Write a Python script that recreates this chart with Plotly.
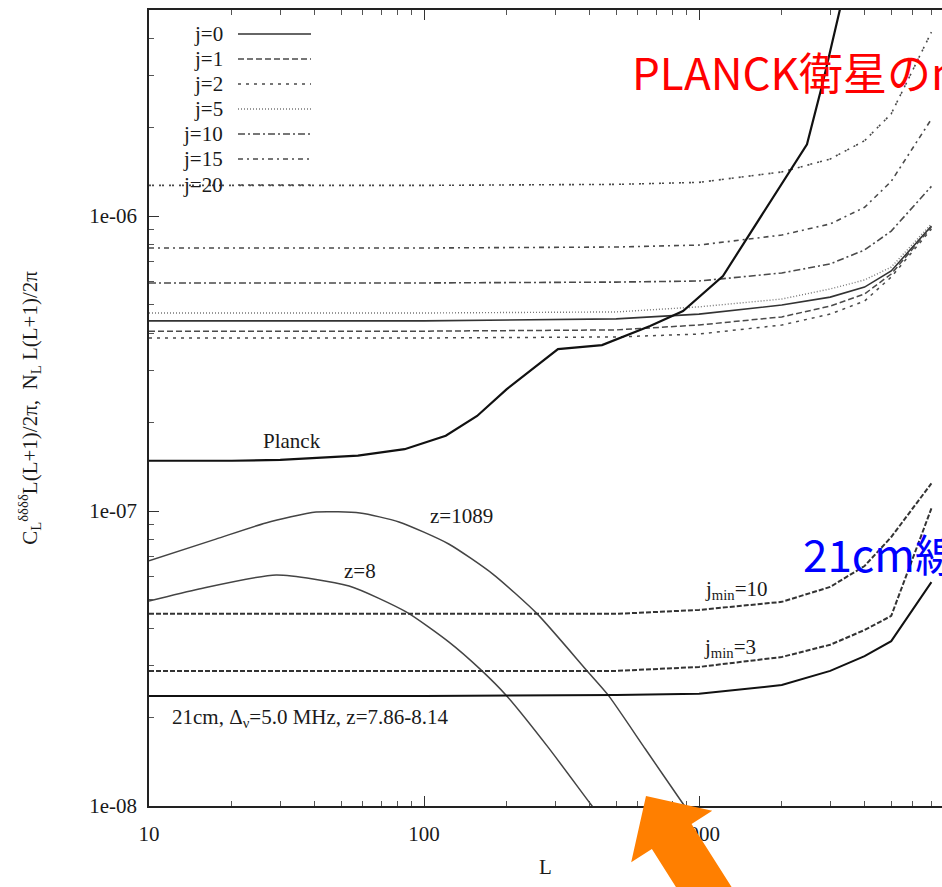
import numpy as np
import plotly.graph_objects as go

# ---------------- data ----------------
# Multipole grid for the noise curves N_L L(L+1)/2pi
L_noise = [10, 100, 500, 1000, 2000, 3000, 4000, 5000, 7000]

noise_j0 = [4.41e-7, 4.41e-7, 4.48e-7, 4.65e-7, 4.99e-7, 5.31e-7, 5.74e-7, 6.51e-7, 9.25e-7]
noise_j1 = [4.07e-7, 4.07e-7, 4.11e-7, 4.27e-7, 4.55e-7, 4.95e-7, 5.44e-7, 6.36e-7, 9.18e-7]
noise_j2 = [3.86e-7, 3.86e-7, 3.89e-7, 3.98e-7, 4.27e-7, 4.65e-7, 5.15e-7, 6.21e-7, 9.03e-7]
noise_j5 = [4.69e-7, 4.69e-7, 4.73e-7, 4.92e-7, 5.23e-7, 5.66e-7, 6.07e-7, 6.71e-7, 9.40e-7]
noise_j10 = [5.93e-7, 5.93e-7, 5.97e-7, 6.02e-7, 6.41e-7, 6.88e-7, 7.67e-7, 8.89e-7, 1.26e-6]
noise_j15 = [7.79e-7, 7.79e-7, 7.85e-7, 7.97e-7, 8.62e-7, 9.40e-7, 1.07e-6, 1.31e-6, 2.13e-6]
noise_j20 = [1.27e-6, 1.27e-6, 1.28e-6, 1.30e-6, 1.41e-6, 1.56e-6, 1.80e-6, 2.22e-6, 4.20e-6]

# 21cm noise (5 MHz band, z=7.86-8.14)
noise_21cm = [2.36e-8, 2.36e-8, 2.38e-8, 2.40e-8, 2.57e-8, 2.87e-8, 3.22e-8, 3.62e-8, 5.74e-8]
noise_21cm_jmin3 = [2.87e-8, 2.87e-8, 2.87e-8, 2.96e-8, 3.20e-8, 3.52e-8, 3.95e-8, 4.41e-8, 1.02e-7]
noise_21cm_jmin10 = [4.48e-8, 4.48e-8, 4.48e-8, 4.62e-8, 4.92e-8, 5.53e-8, 6.51e-8, 8.16e-8, 1.24e-7]

# Planck lensing reconstruction noise
L_planck = [10, 20, 30, 40, 57.5, 85, 120, 156, 200, 307, 444, 664, 875, 1222, 2470, 2825, 3256, 3600]
noise_planck = [1.48e-7, 1.48e-7, 1.49e-7, 1.51e-7, 1.54e-7, 1.62e-7, 1.80e-7, 2.10e-7, 2.59e-7,
                 3.54e-7, 3.65e-7, 4.24e-7, 4.76e-7, 6.26e-7, 1.75e-6, 2.85e-6, 5.03e-6, 7.5e-6]

# Deflection power spectra
L_z1089 = [10, 17.5, 26.6, 40.5, 58.5, 81.1, 123, 178, 258, 392, 467, 638, 867, 1000]
cl_z1089 = [6.78e-8, 8.03e-8, 9.11e-8, 9.92e-8, 9.84e-8, 9.18e-8, 7.73e-8, 6.11e-8, 4.48e-8,
            2.87e-8, 2.38e-8, 1.56e-8, 1.03e-8, 8.55e-9]

L_z8 = [10, 15.2, 29.0, 53.4, 86.1, 123, 160, 200, 283, 402, 516]
cl_z8 = [4.95e-8, 5.44e-8, 6.07e-8, 5.57e-8, 4.55e-8, 3.60e-8, 2.91e-8, 2.36e-8, 1.58e-8, 1.02e-8, 7.5e-9]

j_labels = ["j=0", "j=1", "j=2", "j=5", "j=10", "j=15", "j=20"]
x_ticks = [10, 100, 1000]
x_ticktext = ["10", "100", "1000"]
y_ticks = [1e-8, 1e-7, 1e-6]
y_ticktext = ["1e-08", "1e-07", "1e-06"]
x_minor = [m * d for d in (10, 100, 1000) for m in range(2, 10)]
y_minor = [m * d for d in (1e-8, 1e-7, 1e-6) for m in range(2, 10)]

# ---------------- styling ----------------
W, H = 942, 887
ML, MR, MT, MB = 149, 0, 10, 81
PW, PH = W - ML - MR, H - MT - MB
SERIF = "Liberation Serif, Times New Roman, serif"
GREY = "#4a4a4a"

j_styles = [
    dict(color="#333333", width=1.6, dash="solid"),
    dict(color=GREY, width=1.5, dash="6px,3px"),
    dict(color=GREY, width=1.5, dash="3px,5px"),
    dict(color="#777777", width=1.4, dash="1px,2px"),
    dict(color=GREY, width=1.6, dash="7px,3px,2px,3px"),
    dict(color=GREY, width=1.6, dash="5px,4px,2px,4px"),
    dict(color=GREY, width=1.6, dash="2px,1px,2px,5px"),
]
j_series = [noise_j0, noise_j1, noise_j2, noise_j5, noise_j10, noise_j15, noise_j20]


def paper(px, py):
    """pixel position on the page -> paper coordinates of the plot area"""
    return (px - ML) / PW, (H - MB - py) / PH


fig = go.Figure()

for name, vals, st in zip(j_labels, j_series, j_styles):
    fig.add_trace(go.Scatter(x=L_noise, y=vals, mode="lines", name=name,
                             line=st, showlegend=False))

fig.add_trace(go.Scatter(x=L_planck, y=noise_planck, mode="lines", name="Planck",
                         line=dict(color="#111111", width=2.2), showlegend=False))

fig.add_trace(go.Scatter(x=L_z1089, y=cl_z1089, mode="lines", name="z=1089",
                         line=dict(color="#444444", width=1.5, shape="spline", smoothing=0.6),
                         showlegend=False))
fig.add_trace(go.Scatter(x=L_z8, y=cl_z8, mode="lines", name="z=8",
                         line=dict(color="#444444", width=1.5, shape="spline", smoothing=0.6),
                         showlegend=False))

fig.add_trace(go.Scatter(x=L_noise, y=noise_21cm, mode="lines", name="21cm",
                         line=dict(color="#111111", width=2.0), showlegend=False))
fig.add_trace(go.Scatter(x=L_noise, y=noise_21cm_jmin3, mode="lines", name="jmin=3",
                         line=dict(color="#333333", width=2.0, dash="5px,2px"), showlegend=False))
fig.add_trace(go.Scatter(x=L_noise, y=noise_21cm_jmin10, mode="lines", name="jmin=10",
                         line=dict(color="#333333", width=2.0, dash="5px,2px"), showlegend=False))

annotations = []
shapes = []

# key in the upper-left corner: label on the left, line sample on the right
key_rows = [34, 59, 84, 109, 134, 159, 185]
for lab, st, py in zip(j_labels, j_styles, key_rows):
    xt, yt = paper(225, py)
    annotations.append(dict(x=xt, y=yt, xref="paper", yref="paper", text=lab, showarrow=False,
                            xanchor="right", yanchor="middle",
                            font=dict(family=SERIF, size=21, color="#1a1a1a")))
    x0, y0 = paper(238, py)
    x1, _ = paper(311, py)
    shapes.append(dict(type="line", xref="paper", yref="paper", x0=x0, x1=x1, y0=y0, y1=y0,
                       line=dict(color=st["color"], width=st["width"], dash=st["dash"])))


def label(text, px, py, size=21, anchor="center", color="#1a1a1a", family=SERIF):
    x, y = paper(px, py)
    annotations.append(dict(x=x, y=y, xref="paper", yref="paper", text=text, showarrow=False,
                            xanchor=anchor, yanchor="middle",
                            font=dict(family=family, size=size, color=color)))


label("Planck", 292, 441, 21)
label("z=1089", 461, 516, 21)
label("z=8", 360, 571, 21)
label("j<sub>min</sub>=10", 736, 590, 21)
label("j<sub>min</sub>=3", 730, 648, 21)
label("21cm, Δ<sub>ν</sub>=5.0 MHz, z=7.86-8.14", 170, 718, 21, anchor="left")

JP = "Noto Sans CJK JP, Noto Sans, sans-serif"
label("PLANCK衛星のnoise", 630, 71, 44, anchor="left", color="#ff0000", family=JP)
label("21cm線のnoise", 801, 553, 44, anchor="left", color="#0000ff", family=JP)

# orange pointer arrow near L ~ 500-1000 on the bottom axis
tip = np.array([646.0, 796.0])
tail = np.array([712.0, 900.0])
u = (tail - tip) / np.linalg.norm(tail - tip)
n = np.array([u[1], -u[0]])
head_len, head_half, shaft_half = 48.0, 48.0, 23.5
length = np.linalg.norm(tail - tip)
pts = [tip,
       tip + head_len * u + head_half * n,
       tip + head_len * u + shaft_half * n,
       tip + length * u + shaft_half * n,
       tip + length * u - shaft_half * n,
       tip + head_len * u - shaft_half * n,
       tip + head_len * u - head_half * n]
path = "M " + " L ".join("{:.5f},{:.5f}".format(*paper(p[0], p[1])) for p in pts) + " Z"
shapes.append(dict(type="path", xref="paper", yref="paper", path=path,
                   fillcolor="#ff7f00", line=dict(width=0), layer="above"))

axis_common = dict(
    type="log", showline=True, linecolor="#222222", linewidth=1.6,
    ticks="inside", ticklen=10, tickwidth=1.3, tickcolor="#333333",
    showgrid=False, zeroline=False,
    tickfont=dict(family=SERIF, size=21, color="#1a1a1a"),
)

fig.update_layout(
    width=W, height=H,
    margin=dict(l=ML, r=MR, t=MT, b=MB),
    paper_bgcolor="white", plot_bgcolor="white",
    showlegend=False,
    xaxis=dict(axis_common, range=[1, 1 + PW / 275.0], mirror="ticks",
               tickmode="array", tickvals=x_ticks, ticktext=x_ticktext,
               ticklabelstandoff=8,
               minor=dict(tickmode="array", tickvals=x_minor, ticks="inside", ticklen=5,
                          tickwidth=1.1, tickcolor="#555555", showgrid=False),
               title=dict(text="L", font=dict(family=SERIF, size=21, color="#1a1a1a"), standoff=14)),
    yaxis=dict(axis_common, range=[-8, -8 + PH / 295.0], mirror=False,
               tickmode="array", tickvals=y_ticks, ticktext=y_ticktext,
               ticklabelstandoff=6,
               minor=dict(tickmode="array", tickvals=y_minor, ticks="inside", ticklen=5,
                          tickwidth=1.1, tickcolor="#555555", showgrid=False),
               title=dict(text="C<sub>L</sub><sup>δδδδ</sup>L(L+1)/2π,  N<sub>L</sub> L(L+1)/2π",
                          font=dict(family=SERIF, size=21, color="#1a1a1a"), standoff=46)),
    annotations=annotations,
    shapes=shapes,
)

fig.write_html("out.html")
